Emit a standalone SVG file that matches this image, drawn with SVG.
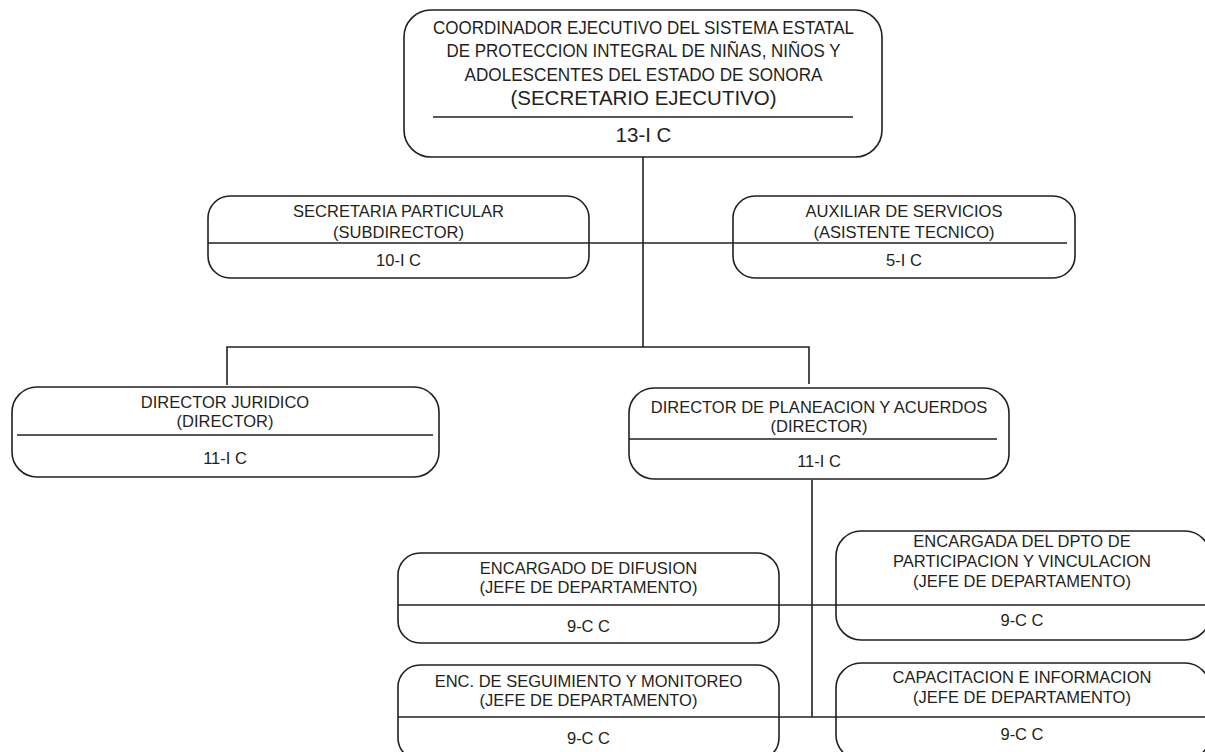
<svg xmlns="http://www.w3.org/2000/svg" width="1205" height="752" viewBox="0 0 1205 752">
<style>
.box{fill:#fff;stroke:#231f20;stroke-width:1.6}
.ln{stroke:#231f20;stroke-width:1.6;fill:none}
text{font-family:"Liberation Sans",Arial,sans-serif;fill:#231f20;text-anchor:middle}
.t{font-size:16.5px}
.h{font-size:18.5px}
.h2{font-size:20.5px}
</style>
<rect width="1205" height="752" fill="#fff"/>
<g id="node-coordinador">
<rect class="box" x="404" y="10" width="478" height="147" rx="27" ry="27"/>
<line class="ln" x1="433" y1="117" x2="853" y2="117"/>
<text class="h" x="643.5" y="34" textLength="421" lengthAdjust="spacingAndGlyphs">COORDINADOR EJECUTIVO DEL SISTEMA ESTATAL</text>
<text class="h" x="643.5" y="57" textLength="394" lengthAdjust="spacingAndGlyphs">DE PROTECCION INTEGRAL DE NIÑAS, NIÑOS Y</text>
<text class="h" x="643.5" y="81" textLength="358" lengthAdjust="spacingAndGlyphs">ADOLESCENTES DEL ESTADO DE SONORA</text>
<text class="h2" x="643.5" y="105">(SECRETARIO EJECUTIVO)</text>
<text class="h2" x="643.5" y="142">13-I C</text>
</g>
<g id="connectors">
<line class="ln" x1="643" y1="157" x2="643" y2="347"/>
<line class="ln" x1="208" y1="243" x2="1067" y2="243"/>
<polyline class="ln" points="227,385 227,347 809,347 809,384"/>
<line class="ln" x1="812" y1="480" x2="812" y2="717"/>
<line class="ln" x1="398" y1="605" x2="1205" y2="605"/>
<line class="ln" x1="398" y1="717" x2="1205" y2="717"/>
</g>
<g id="node-secretaria">
<rect class="box" x="208" y="196" width="381" height="82" rx="22" ry="22"/>
<line class="ln" x1="208" y1="243" x2="589" y2="243"/>
<text class="t" x="398.5" y="217">SECRETARIA PARTICULAR</text>
<text class="t" x="398.5" y="238">(SUBDIRECTOR)</text>
<text class="t" x="398.5" y="266">10-I C</text>
</g>
<g id="node-auxiliar">
<rect class="box" x="733" y="196" width="342" height="82" rx="22" ry="22"/>
<line class="ln" x1="733" y1="243" x2="1067" y2="243"/>
<text class="t" x="904" y="217">AUXILIAR DE SERVICIOS</text>
<text class="t" x="904" y="238">(ASISTENTE TECNICO)</text>
<text class="t" x="904" y="266">5-I C</text>
</g>
<g id="node-juridico">
<rect class="box" x="12" y="387" width="427" height="90" rx="25" ry="25"/>
<line class="ln" x1="17" y1="435" x2="433" y2="435"/>
<text class="t" x="225" y="408">DIRECTOR JURIDICO</text>
<text class="t" x="225" y="427">(DIRECTOR)</text>
<text class="t" x="225" y="464">11-I C</text>
</g>
<g id="node-planeacion">
<rect class="box" x="629" y="388" width="380" height="91" rx="25" ry="25"/>
<line class="ln" x1="629" y1="439" x2="997" y2="439"/>
<text class="t" x="819" y="413">DIRECTOR DE PLANEACION Y ACUERDOS</text>
<text class="t" x="819" y="432">(DIRECTOR)</text>
<text class="t" x="819" y="467">11-I C</text>
</g>
<g id="node-difusion">
<rect class="box" x="398" y="553" width="381" height="90" rx="22" ry="22"/>
<line class="ln" x1="398" y1="605" x2="779" y2="605"/>
<text class="t" x="588.5" y="574">ENCARGADO DE DIFUSION</text>
<text class="t" x="588.5" y="593">(JEFE DE DEPARTAMENTO)</text>
<text class="t" x="588.5" y="632">9-C C</text>
</g>
<g id="node-participacion">
<rect class="box" x="836" y="531" width="374" height="109" rx="25" ry="25"/>
<line class="ln" x1="836" y1="605" x2="1205" y2="605"/>
<text class="t" x="1022" y="547">ENCARGADA DEL DPTO DE</text>
<text class="t" x="1022" y="567">PARTICIPACION Y VINCULACION</text>
<text class="t" x="1022" y="587">(JEFE DE DEPARTAMENTO)</text>
<text class="t" x="1022" y="626">9-C C</text>
</g>
<g id="node-seguimiento">
<rect class="box" x="398" y="665" width="381" height="95" rx="22" ry="22"/>
<line class="ln" x1="398" y1="717" x2="779" y2="717"/>
<text class="t" x="588.5" y="687">ENC. DE SEGUIMIENTO Y MONITOREO</text>
<text class="t" x="588.5" y="706">(JEFE DE DEPARTAMENTO)</text>
<text class="t" x="588.5" y="744">9-C C</text>
</g>
<g id="node-capacitacion">
<rect class="box" x="836" y="663" width="374" height="97" rx="25" ry="25"/>
<line class="ln" x1="836" y1="717" x2="1205" y2="717"/>
<text class="t" x="1022" y="683">CAPACITACION E INFORMACION</text>
<text class="t" x="1022" y="703">(JEFE DE DEPARTAMENTO)</text>
<text class="t" x="1022" y="740">9-C C</text>
</g>
</svg>
